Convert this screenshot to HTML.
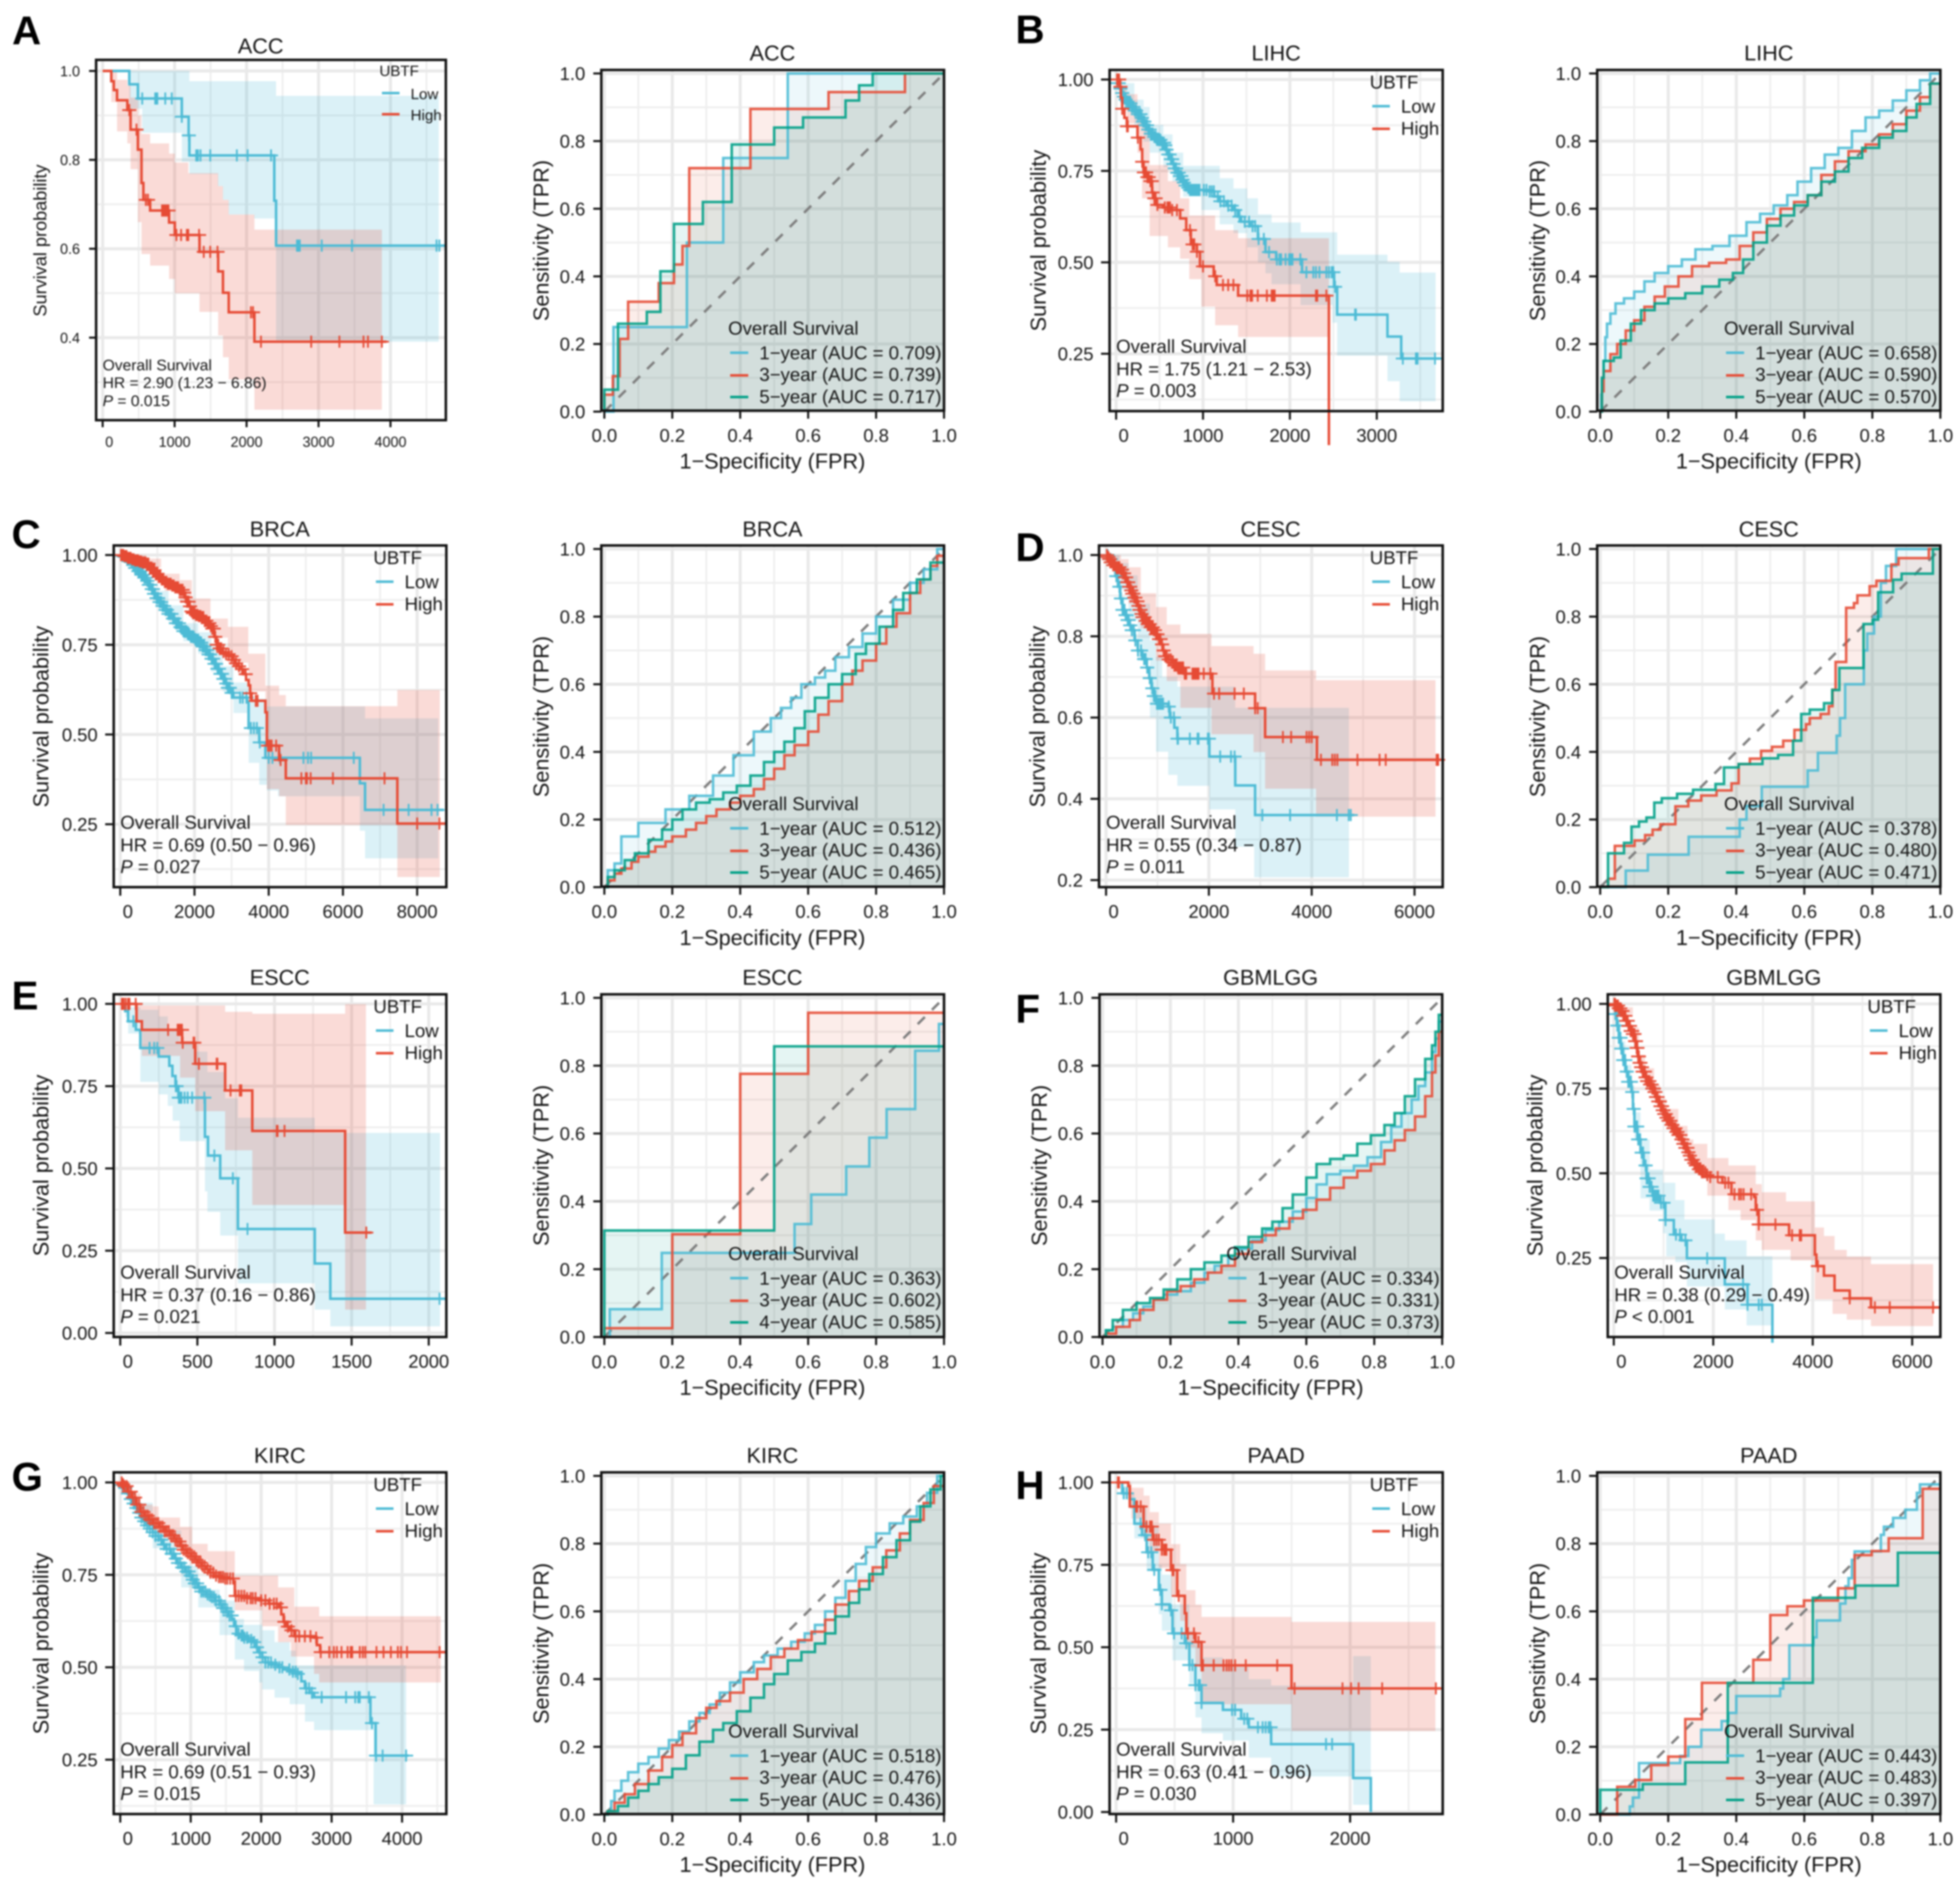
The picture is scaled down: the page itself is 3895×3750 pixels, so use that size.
<!DOCTYPE html>
<html lang="en">
<head>
<meta charset="utf-8">
<title>UBTF survival and ROC panels</title>
<style>
html,body{margin:0;padding:0;background:#fff;width:3895px;height:3750px;overflow:hidden}
svg{display:block;filter:blur(1.6px);font-family:"Liberation Sans",sans-serif;fill:#141414}
.t{font-size:43px;text-anchor:middle}
.yt{font-size:43px;text-anchor:middle}
.l{font-size:37px}
.pl{font-size:80px;font-weight:bold;fill:#000}
.k{stroke-width:5;fill:none}
.lo{stroke:#4DBBD5}.hi{stroke:#E64B35}.te{stroke:#00A087}
.s{font-size:30px}
</style>
</head>
<body>
<svg id="figure" xmlns="http://www.w3.org/2000/svg" width="3895" height="3750" viewBox="0 0 3895 3750">
<rect x="0" y="0" width="3895" height="3750" fill="#fff"/>
<g id="marks"></g>

<g>
<text class="pl" x="24" y="88">A</text>
<text class="pl" x="2018" y="86">B</text>
<text class="pl" x="23" y="1089">C</text>
<text class="pl" x="2018" y="1115">D</text>
<text class="pl" x="23" y="2006">E</text>
<text class="pl" x="2018" y="2032">F</text>
<text class="pl" x="23" y="2962">G</text>
<text class="pl" x="2018" y="2979">H</text>
</g>

<!-- ACC KM -->
<g>
<text class="t" x="518" y="106">ACC</text>
<text class="yt" style="font-size:36px" transform="translate(92,478) rotate(-90)">Survival probability</text>
<text class="s" x="754" y="151">UBTF</text>
<line class="k lo" x1="759" x2="794" y1="185" y2="185"/>
<text class="s" x="816" y="197">Low</text>
<line class="k hi" x1="759" x2="794" y1="227" y2="227"/>
<text class="s" x="816" y="239">High</text>
<text class="s" style="font-size:31px" x="204" y="736">Overall Survival</text>
<text class="s" style="font-size:31px" x="204" y="771">HR = 2.90 (1.23 − 6.86)</text>
<text class="s" style="font-size:31px" x="204" y="807"><tspan font-style="italic">P</tspan> = 0.015</text>
</g>

<!-- LIHC KM -->
<g>
<text class="t" x="2536" y="120">LIHC</text>
<text class="yt" transform="translate(2078,478) rotate(-90)">Survival probability</text>
<text class="l" x="2722" y="176">UBTF</text>
<line class="k lo" x1="2727" x2="2762" y1="211" y2="211"/>
<text class="l" x="2784" y="224">Low</text>
<line class="k hi" x1="2727" x2="2762" y1="256" y2="256"/>
<text class="l" x="2784" y="268">High</text>
<text class="l" x="2218" y="701">Overall Survival</text>
<text class="l" x="2218" y="746">HR = 1.75 (1.21 − 2.53)</text>
<text class="l" x="2218" y="789"><tspan font-style="italic">P</tspan> = 0.003</text>
</g>

<!-- BRCA KM -->
<g>
<text class="t" x="556" y="1066">BRCA</text>
<text class="yt" transform="translate(96,1424) rotate(-90)">Survival probability</text>
<text class="l" x="742" y="1121">UBTF</text>
<line class="k lo" x1="747" x2="782" y1="1156" y2="1156"/>
<text class="l" x="804" y="1169">Low</text>
<line class="k hi" x1="747" x2="782" y1="1201" y2="1201"/>
<text class="l" x="804" y="1213">High</text>
<text class="l" x="239" y="1647">Overall Survival</text>
<text class="l" x="239" y="1692">HR = 0.69 (0.50 − 0.96)</text>
<text class="l" x="239" y="1735"><tspan font-style="italic">P</tspan> = 0.027</text>
</g>

<!-- CESC KM -->
<g>
<text class="t" x="2525" y="1066">CESC</text>
<text class="yt" transform="translate(2076,1424) rotate(-90)">Survival probability</text>
<text class="l" x="2722" y="1121">UBTF</text>
<line class="k lo" x1="2727" x2="2762" y1="1156" y2="1156"/>
<text class="l" x="2784" y="1169">Low</text>
<line class="k hi" x1="2727" x2="2762" y1="1201" y2="1201"/>
<text class="l" x="2784" y="1213">High</text>
<text class="l" x="2198" y="1647">Overall Survival</text>
<text class="l" x="2198" y="1692">HR = 0.55 (0.34 − 0.87)</text>
<text class="l" x="2198" y="1735"><tspan font-style="italic">P</tspan> = 0.011</text>
</g>

<!-- ESCC KM -->
<g>
<text class="t" x="556" y="1957">ESCC</text>
<text class="yt" transform="translate(96,2316) rotate(-90)">Survival probability</text>
<text class="l" x="742" y="2013">UBTF</text>
<line class="k lo" x1="747" x2="782" y1="2048" y2="2048"/>
<text class="l" x="804" y="2061">Low</text>
<line class="k hi" x1="747" x2="782" y1="2093" y2="2093"/>
<text class="l" x="804" y="2105">High</text>
<text class="l" x="239" y="2541">Overall Survival</text>
<text class="l" x="239" y="2586">HR = 0.37 (0.16 − 0.86)</text>
<text class="l" x="239" y="2629"><tspan font-style="italic">P</tspan> = 0.021</text>
</g>

<!-- GBMLGG KM -->
<g>
<text class="t" x="3525" y="1957">GBMLGG</text>
<text class="yt" transform="translate(3065,2316) rotate(-90)">Survival probability</text>
<text class="l" x="3711" y="2013">UBTF</text>
<line class="k lo" x1="3716" x2="3751" y1="2048" y2="2048"/>
<text class="l" x="3773" y="2061">Low</text>
<line class="k hi" x1="3716" x2="3751" y1="2093" y2="2093"/>
<text class="l" x="3773" y="2105">High</text>
<text class="l" x="3208" y="2541">Overall Survival</text>
<text class="l" x="3208" y="2586">HR = 0.38 (0.29 − 0.49)</text>
<text class="l" x="3208" y="2629"><tspan font-style="italic">P</tspan> &lt; 0.001</text>
</g>

<!-- KIRC KM -->
<g>
<text class="t" x="556" y="2907">KIRC</text>
<text class="yt" transform="translate(96,3266) rotate(-90)">Survival probability</text>
<text class="l" x="742" y="2963">UBTF</text>
<line class="k lo" x1="747" x2="782" y1="2998" y2="2998"/>
<text class="l" x="804" y="3011">Low</text>
<line class="k hi" x1="747" x2="782" y1="3043" y2="3043"/>
<text class="l" x="804" y="3055">High</text>
<text class="l" x="239" y="3489">Overall Survival</text>
<text class="l" x="239" y="3534">HR = 0.69 (0.51 − 0.93)</text>
<text class="l" x="239" y="3577"><tspan font-style="italic">P</tspan> = 0.015</text>
</g>

<!-- PAAD KM -->
<g>
<text class="t" x="2536" y="2907">PAAD</text>
<text class="yt" transform="translate(2078,3266) rotate(-90)">Survival probability</text>
<text class="l" x="2722" y="2963">UBTF</text>
<line class="k lo" x1="2727" x2="2762" y1="2998" y2="2998"/>
<text class="l" x="2784" y="3011">Low</text>
<line class="k hi" x1="2727" x2="2762" y1="3043" y2="3043"/>
<text class="l" x="2784" y="3055">High</text>
<text class="l" x="2218" y="3489">Overall Survival</text>
<text class="l" x="2218" y="3534">HR = 0.63 (0.41 − 0.96)</text>
<text class="l" x="2218" y="3577"><tspan font-style="italic">P</tspan> = 0.030</text>
</g>

<!-- ROC ACC -->
<g>
<text class="t" x="1535" y="120">ACC</text>
<text class="yt" transform="translate(1090,478) rotate(-90)">Sensitivity (TPR)</text>
<text class="t" x="1535" y="931">1−Specificity (FPR)</text>
<text class="l" x="1447" y="665">Overall Survival</text>
<line class="k lo" x1="1451" x2="1487" y1="701" y2="701"/>
<text class="l" x="1509" y="714">1−year (AUC = 0.709)</text>
<line class="k hi" x1="1451" x2="1487" y1="746" y2="746"/>
<text class="l" x="1509" y="757">3−year (AUC = 0.739)</text>
<line class="k te" x1="1451" x2="1487" y1="789" y2="789"/>
<text class="l" x="1509" y="801">5−year (AUC = 0.717)</text>
</g>

<!-- ROC LIHC -->
<g>
<text class="t" x="3515" y="120">LIHC</text>
<text class="yt" transform="translate(3070,478) rotate(-90)">Sensitivity (TPR)</text>
<text class="t" x="3515" y="931">1−Specificity (FPR)</text>
<text class="l" x="3426" y="665">Overall Survival</text>
<line class="k lo" x1="3430" x2="3466" y1="701" y2="701"/>
<text class="l" x="3488" y="714">1−year (AUC = 0.658)</text>
<line class="k hi" x1="3430" x2="3466" y1="746" y2="746"/>
<text class="l" x="3488" y="757">3−year (AUC = 0.590)</text>
<line class="k te" x1="3430" x2="3466" y1="789" y2="789"/>
<text class="l" x="3488" y="801">5−year (AUC = 0.570)</text>
</g>

<!-- ROC BRCA -->
<g>
<text class="t" x="1535" y="1066">BRCA</text>
<text class="yt" transform="translate(1090,1424) rotate(-90)">Sensitivity (TPR)</text>
<text class="t" x="1535" y="1878">1−Specificity (FPR)</text>
<text class="l" x="1447" y="1610">Overall Survival</text>
<line class="k lo" x1="1451" x2="1487" y1="1646" y2="1646"/>
<text class="l" x="1509" y="1659">1−year (AUC = 0.512)</text>
<line class="k hi" x1="1451" x2="1487" y1="1691" y2="1691"/>
<text class="l" x="1509" y="1702">3−year (AUC = 0.436)</text>
<line class="k te" x1="1451" x2="1487" y1="1734" y2="1734"/>
<text class="l" x="1509" y="1746">5−year (AUC = 0.465)</text>
</g>

<!-- ROC CESC -->
<g>
<text class="t" x="3515" y="1066">CESC</text>
<text class="yt" transform="translate(3070,1424) rotate(-90)">Sensitivity (TPR)</text>
<text class="t" x="3515" y="1878">1−Specificity (FPR)</text>
<text class="l" x="3426" y="1610">Overall Survival</text>
<line class="k lo" x1="3430" x2="3466" y1="1646" y2="1646"/>
<text class="l" x="3488" y="1659">1−year (AUC = 0.378)</text>
<line class="k hi" x1="3430" x2="3466" y1="1691" y2="1691"/>
<text class="l" x="3488" y="1702">3−year (AUC = 0.480)</text>
<line class="k te" x1="3430" x2="3466" y1="1734" y2="1734"/>
<text class="l" x="3488" y="1746">5−year (AUC = 0.471)</text>
</g>

<!-- ROC ESCC -->
<g>
<text class="t" x="1535" y="1957">ESCC</text>
<text class="yt" transform="translate(1090,2316) rotate(-90)">Sensitivity (TPR)</text>
<text class="t" x="1535" y="2772">1−Specificity (FPR)</text>
<text class="l" x="1447" y="2504">Overall Survival</text>
<line class="k lo" x1="1451" x2="1487" y1="2540" y2="2540"/>
<text class="l" x="1509" y="2553">1−year (AUC = 0.363)</text>
<line class="k hi" x1="1451" x2="1487" y1="2585" y2="2585"/>
<text class="l" x="1509" y="2596">3−year (AUC = 0.602)</text>
<line class="k te" x1="1451" x2="1487" y1="2628" y2="2628"/>
<text class="l" x="1509" y="2640">4−year (AUC = 0.585)</text>
</g>

<!-- ROC GBMLGG -->
<g>
<text class="t" x="2525" y="1957">GBMLGG</text>
<text class="yt" transform="translate(2080,2316) rotate(-90)">Sensitivity (TPR)</text>
<text class="t" x="2525" y="2772">1−Specificity (FPR)</text>
<text class="l" x="2437" y="2504">Overall Survival</text>
<line class="k lo" x1="2441" x2="2477" y1="2540" y2="2540"/>
<text class="l" x="2499" y="2553">1−year (AUC = 0.334)</text>
<line class="k hi" x1="2441" x2="2477" y1="2585" y2="2585"/>
<text class="l" x="2499" y="2596">3−year (AUC = 0.331)</text>
<line class="k te" x1="2441" x2="2477" y1="2628" y2="2628"/>
<text class="l" x="2499" y="2640">5−year (AUC = 0.373)</text>
</g>

<!-- ROC KIRC -->
<g>
<text class="t" x="1535" y="2907">KIRC</text>
<text class="yt" transform="translate(1090,3266) rotate(-90)">Sensitivity (TPR)</text>
<text class="t" x="1535" y="3720">1−Specificity (FPR)</text>
<text class="l" x="1447" y="3453">Overall Survival</text>
<line class="k lo" x1="1451" x2="1487" y1="3489" y2="3489"/>
<text class="l" x="1509" y="3502">1−year (AUC = 0.518)</text>
<line class="k hi" x1="1451" x2="1487" y1="3534" y2="3534"/>
<text class="l" x="1509" y="3545">3−year (AUC = 0.476)</text>
<line class="k te" x1="1451" x2="1487" y1="3577" y2="3577"/>
<text class="l" x="1509" y="3589">5−year (AUC = 0.436)</text>
</g>

<!-- ROC PAAD -->
<g>
<text class="t" x="3515" y="2907">PAAD</text>
<text class="yt" transform="translate(3070,3266) rotate(-90)">Sensitivity (TPR)</text>
<text class="t" x="3515" y="3720">1−Specificity (FPR)</text>
<text class="l" x="3426" y="3453">Overall Survival</text>
<line class="k lo" x1="3430" x2="3466" y1="3489" y2="3489"/>
<text class="l" x="3488" y="3502">1−year (AUC = 0.443)</text>
<line class="k hi" x1="3430" x2="3466" y1="3534" y2="3534"/>
<text class="l" x="3488" y="3545">3−year (AUC = 0.483)</text>
<line class="k te" x1="3430" x2="3466" y1="3577" y2="3577"/>
<text class="l" x="3488" y="3589">5−year (AUC = 0.397)</text>
</g>
</svg>

<script>
/* ---------- Kaplan-Meier data: curve knots are [time, survival], bands are [time, lower, upper] ---------- */
const accLow=[[370,.97],[490,.938],[1100,.897],[1195,.855],[1205,.81],[2385,.708],[2410,.607],[4780,.607]];
const accHigh=[[120,.977],[155,.957],[200,.934],[343,.912],[388,.868],[490,.823],[540,.748],[566,.71],[660,.686],[923,.659],[1003,.631],[1346,.593],[1605,.549],[1672,.501],[1752,.457],[2109,.391],[3945,.391]];
const accLowBand=[[0,1,1],[370,.915,1],[550,.861,1],[1100,.796,1],[1205,.768,.977],[1600,.741,.977],[1670,.71,.977],[1750,.677,.977],[2105,.668,.977],[2410,.391,.944],[4670,.391,.944]];
const accHighBand=[[0,1,1],[120,.93,1],[200,.864,.98],[343,.837,.967],[388,.779,.94],[490,.66,.9],[540,.588,.858],[660,.562,.837],[923,.532,.814],[1003,.5,.794],[1190,.5,.77],[1346,.458,.77],[1605,.405,.741],[1672,.356,.71],[1752,.306,.677],[2109,.238,.643],[3880,.238,.643]];
const accLowCensor=[550,730,745,760,870,960,1100,1198,1300,1325,1360,1495,1865,2015,2340,2700,2720,2740,3045,3465,4640,4680];
const accHighCensor=[370,470,600,630,825,840,855,870,885,900,915,1025,1090,1170,1190,1340,1405,1495,1596,2060,2090,2200,2898,3290,3625,3687,3880];

const lihcLow=[[15,.99],[35,.975],[53,.963],[75,.953],[100,.945],[120,.94],[140,.935],[175,.925],[210,.915],[245,.905],[281,.895],[305,.885],[330,.875],[360,.863],[386,.852],[425,.843],[470,.835],[515,.827],[561,.82],[580,.808],[600,.795],[625,.782],[649,.769],[675,.757],[700,.745],[725,.736],[754,.726],[775,.718],[800,.71],[820,.704],[842,.698],[1070,.694],[1130,.68],[1193,.667],[1270,.655],[1351,.643],[1400,.625],[1439,.611],[1544,.599],[1632,.564],[1719,.528],[1842,.508],[2140,.473],[2509,.433],[2544,.357],[3123,.297],[3281,.237],[3737,.237]];
const lihcHigh=[[42,.98],[55,.95],[70,.92],[95,.895],[123,.872],[246,.841],[281,.809],[300,.775],[316,.746],[350,.733],[386,.722],[414,.691],[435,.675],[456,.657],[540,.65],[632,.643],[737,.62],[807,.588],[860,.549],[930,.529],[965,.489],[1123,.462],[1158,.438],[1404,.409],[2449,0]];
const lihcLowBand=[[0,1,1],[70,.945,.99],[210,.87,.945],[316,.83,.925],[386,.8,.876],[544,.76,.85],[649,.72,.8],[772,.68,.764],[982,.643,.764],[1193,.604,.73],[1351,.58,.702],[1509,.541,.675],[1632,.5,.631],[1719,.47,.631],[1789,.44,.609],[2123,.383,.582],[2491,.335,.582],[2544,.245,.521],[3123,.175,.501],[3263,.12,.472],[3677,.12,.472]];
const lihcHighBand=[[0,1,1],[42,.97,1],[70,.93,.98],[123,.88,.96],[246,.8,.92],[298,.675,.87],[386,.572,.766],[596,.541,.722],[737,.51,.675],[842,.454,.628],[982,.379,.628],[1140,.328,.588],[1404,.296,.566],[2449,.296,.566]];
const lihcLowCensor=[15,30,50,70,90,110,130,150,165,180,200,215,230,250,265,280,295,310,325,340,355,370,385,400,420,440,455,470,490,510,530,550,565,580,600,615,630,645,660,675,690,705,720,735,750,765,780,800,815,830,850,870,890,905,920,935,950,960,1010,1040,1075,1100,1125,1170,1200,1240,1290,1330,1370,1420,1480,1530,1570,1600,1640,1700,1760,1850,1880,1900,1950,1990,2010,2030,2120,2190,2270,2300,2340,2420,2450,2480,2500,2520,2750,2760,3300,3450,3470,3670];
const lihcHighCensor=[10,20,35,50,70,125,135,250,300,320,330,345,360,375,395,410,420,440,455,475,560,590,600,620,645,700,850,880,900,930,1000,1140,1230,1290,1350,1510,1545,1565,1630,1735,1790,1810,1825,2300,2315,2420];

const brcaLow=[[50,.997],[100,.995],[180,.987],[250,.98],[320,.972],[378,.964],[460,.955],[540,.945],[620,.937],[706,.928],[770,.917],[830,.905],[890,.892],[953,.88],[1030,.869],[1110,.858],[1200,.847],[1281,.836],[1385,.823],[1490,.81],[1590,.799],[1692,.788],[1800,.78],[1900,.772],[2000,.764],[2103,.756],[2190,.745],[2270,.735],[2350,.723],[2431,.711],[2520,.697],[2600,.683],[2680,.669],[2760,.655],[2830,.642],[2900,.63],[2970,.616],[3047,.603],[3417,.59],[3458,.518],[3745,.478],[3910,.435],[6456,.364],[6596,.29],[8715,.29]];
const brcaHigh=[[100,.997],[200,.992],[296,.988],[400,.985],[500,.982],[600,.979],[706,.976],[800,.965],[870,.958],[950,.948],[1035,.939],[1120,.932],[1200,.925],[1280,.92],[1363,.915],[1450,.91],[1570,.903],[1692,.895],[1750,.882],[1800,.87],[1850,.857],[1897,.843],[1960,.838],[2040,.833],[2120,.83],[2185,.827],[2270,.817],[2350,.81],[2420,.802],[2472,.795],[2530,.772],[2595,.75],[2680,.74],[2760,.73],[2840,.724],[2924,.718],[3010,.708],[3090,.698],[3170,.69],[3253,.682],[3320,.668],[3390,.652],[3458,.637],[3500,.615],[3540,.594],[3910,.562],[3951,.469],[4279,.429],[4460,.378],[7466,.252],[8755,.252]];
const brcaLowBand=[[0,1,1],[400,.955,.98],[950,.86,.9],[1300,.815,.86],[1700,.76,.81],[2100,.725,.785],[2450,.675,.745],[2760,.62,.69],[3050,.56,.645],[3420,.525,.638],[3460,.421,.6],[3745,.36,.6],[3950,.344,.578],[4250,.328,.578],[6456,.232,.578],[6596,.155,.545],[8567,.155,.545]];
const brcaHighBand=[[0,1,1],[300,.98,1],[700,.965,.99],[1100,.925,.95],[1199,.9,.948],[1600,.87,.93],[1930,.82,.879],[2430,.77,.823],[2900,.7,.8],[3450,.62,.725],[3910,.451,.636],[3950,.348,.636],[4279,.328,.61],[4460,.248,.579],[7466,.103,.624],[8610,.103,.624]];
const brcaLowCensor=[60,120,190,240,300,350,400,450,490,530,570,610,650,690,730,770,810,850,880,910,940,980,1020,1060,1100,1140,1180,1220,1260,1300,1340,1380,1420,1460,1500,1540,1580,1620,1660,1700,1740,1780,1820,1860,1900,1940,1980,2020,2060,2100,2140,2180,2220,2260,2300,2340,2380,2420,2460,2500,2540,2580,2620,2660,2700,2740,2780,2820,2860,2900,2950,3000,3040,3230,3300,3400,3520,3600,3680,3760,4000,4100,4300,4936,5060,5142,6292,7096,7770,8386,8550];
const brcaHighCensor=[20,50,80,110,140,170,200,240,280,320,360,400,440,480,520,560,600,640,680,720,760,800,840,880,920,960,1000,1040,1080,1120,1160,1200,1240,1280,1320,1360,1400,1440,1480,1520,1560,1600,1640,1680,1720,1760,1800,1840,1880,1920,1960,2000,2040,2080,2120,2160,2200,2240,2280,2320,2360,2400,2440,2480,2520,2560,2600,2640,2680,2720,2780,2850,2920,3000,3060,3120,3200,3280,3380,3500,3650,3700,3980,4030,4080,4200,4320,4880,5000,5030,5130,5730,7120,8000,8600];

const cescLow=[[60,.99],[100,.982],[142,.975],[185,.948],[231,.922],[275,.893],[320,.865],[365,.852],[410,.84],[455,.827],[498,.815],[555,.79],[616,.765],[705,.744],[794,.723],[840,.697],[883,.672],[930,.653],[972,.634],[1209,.627],[1239,.6],[1328,.575],[1387,.548],[2009,.504],[2513,.433],[2899,.36],[4825,.36]];
const cescHigh=[[25,.995],[50,.99],[80,.982],[113,.975],[200,.97],[290,.964],[325,.955],[360,.945],[400,.933],[439,.922],[475,.913],[510,.905],[550,.895],[587,.886],[620,.875],[650,.865],[680,.855],[705,.847],[760,.838],[810,.83],[860,.822],[913,.815],[960,.805],[1010,.793],[1061,.78],[1105,.765],[1150,.751],[1210,.743],[1270,.735],[1330,.728],[1387,.723],[1506,.708],[2069,.659],[2899,.623],[3047,.623],[3094,.552],[4102,.496],[6514,.496]];
const cescLowBand=[[0,1,1],[142,.95,1],[261,.915,.98],[439,.84,.95],[616,.74,.88],[854,.6,.79],[972,.516,.75],[1091,.516,.7],[1209,.459,.7],[1387,.432,.676],[2009,.374,.676],[2513,.282,.624],[2881,.207,.624],[4724,.207,.624]];
const cescHighBand=[[0,1,1],[113,.96,1],[290,.93,.99],[439,.88,.97],[676,.82,.906],[972,.74,.872],[1180,.69,.829],[1446,.624,.806],[2051,.559,.776],[2869,.515,.757],[3094,.425,.716],[4084,.356,.692],[6408,.356,.692]];
const cescLowCensor=[30,60,90,130,170,200,230,260,290,320,340,360,380,400,420,440,470,500,540,570,620,680,740,770,800,850,900,930,960,990,1020,1050,1070,1090,1110,1220,1260,1320,1390,1400,1630,1780,1800,1980,2000,2220,2430,2500,3040,3580,4490,4720,4760];
const cescHighCensor=[15,30,45,60,75,90,110,140,170,200,230,260,290,310,330,350,370,390,410,430,450,470,490,510,530,550,570,590,610,630,650,670,690,710,730,750,770,790,810,830,850,870,890,910,930,950,970,1000,1030,1060,1090,1120,1150,1180,1220,1260,1300,1330,1350,1370,1400,1430,1450,1480,1500,1530,1560,1680,1710,1740,1770,1800,1900,2030,2100,2200,2500,2680,2900,2950,3440,3600,3900,3950,4000,4180,4400,4450,4500,4890,5320,5440,6430,6460];

const esccLow=[[32,.978],[51,.947],[101,.921],[130,.866],[249,.84],[318,.812],[338,.781],[358,.75],[377,.715],[549,.596],[569,.539],[648,.47],[763,.316],[1261,.211],[1362,.104],[2107,.104]];
const esccHigh=[[105,.947],[140,.921],[401,.882],[486,.818],[680,.737],[856,.614],[1458,.305],[1628,.305]];
const esccLowBand=[[0,1,1],[32,.96,1],[51,.91,.99],[130,.763,.982],[249,.725,.962],[308,.69,.92],[340,.645,.92],[385,.583,.882],[486,.583,.855],[549,.43,.855],[565,.368,.793],[648,.296,.793],[680,.296,.713],[763,.151,.654],[1261,.071,.608],[1362,.02,.608],[2073,.02,.608]];
const esccHighBand=[[0,1,1],[105,.95,1],[140,.842,.995],[388,.776,.995],[486,.674,.995],[680,.555,.976],[856,.389,.97],[1458,.071,.999],[1593,.071,.999]];
const esccLowCensor=[85,190,220,240,360,365,380,385,392,397,417,437,466,545,610,730,825,2070];
const esccHighCensor=[10,15,22,35,50,60,100,310,372,378,385,395,400,405,475,480,510,625,630,715,775,780,785,1015,1020,1065,1595];

const gbmLow=[[30,.97],[61,.936],[100,.9],[140,.868],[185,.834],[232,.8],[290,.77],[354,.74],[385,.69],[415,.638],[475,.6],[537,.561],[600,.523],[659,.485],[720,.46],[780,.434],[933,.413],[1037,.362],[1207,.319],[1360,.302],[1470,.249],[2232,.172],[2689,.112],[3189,0]];
const gbmHigh=[[40,.995],[90,.987],[140,.979],[190,.965],[240,.95],[290,.935],[340,.92],[384,.911],[420,.89],[450,.87],[480,.845],[506,.826],[540,.813],[580,.8],[628,.783],[670,.772],[720,.762],[770,.75],[811,.74],[850,.725],[890,.712],[933,.698],[975,.686],[1015,.675],[1055,.664],[1100,.655],[1150,.643],[1200,.633],[1250,.622],[1299,.613],[1345,.6],[1390,.587],[1435,.575],[1482,.562],[1520,.552],[1560,.54],[1600,.53],[1634,.523],[1700,.512],[1770,.503],[1850,.495],[1939,.489],[2183,.472],[2366,.438],[2823,.43],[2854,.392],[2915,.349],[3524,.317],[3982,.317],[4043,.26],[4073,.226],[4226,.198],[4439,.154],[4744,.131],[5171,.104],[6543,.104]];
const gbmLowBand=[[0,1,1],[61,.92,.95],[140,.85,.89],[232,.78,.82],[354,.72,.76],[415,.6,.68],[537,.426,.6],[720,.39,.511],[990,.323,.472],[1055,.255,.472],[1237,.238,.421],[1420,.238,.364],[1470,.166,.364],[2030,.166,.322],[2232,.098,.302],[2670,.051,.255],[3189,.051,.255]];
const gbmHighBand=[[0,1,1],[140,.97,.99],[384,.89,.93],[506,.8,.85],[628,.76,.81],[811,.72,.76],[933,.675,.72],[1055,.64,.69],[1299,.59,.64],[1482,.53,.6],[1600,.502,.587],[1880,.434,.545],[2305,.391,.523],[2550,.362,.523],[2854,.302,.468],[2975,.274,.444],[3463,.274,.417],[3555,.243,.417],[4043,.128,.34],[4226,.128,.315],[4400,.085,.315],[4439,.085,.274],[4684,.068,.254],[5171,.049,.232],[6420,.049,.232]];
const gbmLowCensor=[30,50,60,70,85,100,115,125,135,150,170,190,210,230,260,290,320,345,370,400,415,430,450,470,490,510,530,560,590,640,660,680,700,720,760,790,810,840,860,880,900,950,1000,1040,1250,1330,1440,1878,2600,2689,2915,2976];
const gbmHighCensor=[10,25,40,55,70,85,100,115,130,145,160,175,190,205,220,235,250,265,280,295,310,325,340,355,370,385,400,415,430,445,460,475,490,505,520,535,550,565,580,595,610,625,640,655,670,685,700,715,730,745,760,775,790,805,820,835,850,865,880,895,910,925,940,955,970,985,1000,1015,1030,1045,1060,1080,1100,1120,1140,1160,1180,1200,1220,1240,1260,1280,1300,1320,1340,1360,1380,1400,1420,1440,1460,1480,1500,1530,1560,1590,1620,1650,1680,1710,1740,1770,1800,1840,1880,1939,2090,2240,2305,2427,2518,2560,2610,2762,2880,2915,3250,3585,3738,3768,4104,4744,5250,5549,6420];

const kircLow=[[30,.993],[60,.985],[95,.97],[130,.955],[165,.943],[199,.931],[245,.918],[290,.905],[330,.895],[372,.884],[415,.875],[460,.865],[500,.855],[545,.845],[600,.832],[650,.82],[705,.807],[761,.794],[815,.782],[870,.77],[925,.759],[978,.748],[1020,.737],[1060,.727],[1105,.716],[1150,.705],[1215,.697],[1280,.69],[1345,.68],[1410,.67],[1455,.66],[1500,.65],[1540,.64],[1583,.631],[1615,.611],[1648,.591],[1700,.586],[1760,.58],[1820,.574],[1886,.568],[1930,.554],[1970,.54],[2015,.527],[2059,.513],[2150,.507],[2240,.5],[2318,.494],[2410,.488],[2513,.482],[2570,.462],[2621,.443],[2685,.431],[2751,.419],[3551,.349],[3625,.261],[4092,.261]];
const kircHigh=[[25,.995],[50,.99],[100,.975],[156,.959],[220,.94],[285,.92],[340,.91],[400,.9],[470,.89],[545,.88],[630,.868],[718,.857],[760,.848],[800,.84],[845,.829],[891,.818],[945,.809],[1000,.8],[1055,.791],[1107,.783],[1160,.774],[1210,.765],[1265,.756],[1324,.748],[1400,.744],[1480,.74],[1605,.732],[1626,.693],[1800,.687],[1972,.681],[2110,.672],[2253,.662],[2285,.643],[2318,.623],[2360,.61],[2400,.6],[2470,.584],[2751,.58],[2790,.56],[2837,.541],[4611,.541]];
const kircLowBand=[[0,1,1],[199,.92,.945],[460,.822,.87],[865,.716,.775],[1107,.662,.71],[1410,.587,.68],[1626,.521,.631],[1756,.49,.615],[1972,.459,.615],[2015,.44,.6],[2190,.418,.568],[2405,.4,.545],[2490,.4,.505],[2621,.353,.505],[2751,.33,.505],[3596,.129,.505],[4057,.129,.505]];
const kircHighBand=[[0,1,1],[156,.95,.97],[285,.9,.94],[460,.87,.935],[545,.855,.905],[848,.82,.88],[1020,.79,.834],[1240,.76,.814],[1326,.74,.814],[1626,.654,.748],[2015,.611,.748],[2240,.568,.716],[2425,.529,.716],[2470,.529,.664],[2751,.482,.664],[2824,.459,.638],[4550,.459,.638]];
const kircLowCensor=[30,70,110,150,190,230,270,300,340,380,420,460,500,540,580,620,660,700,730,760,790,820,850,880,910,940,970,1000,1030,1060,1090,1120,1150,1180,1210,1240,1270,1300,1330,1360,1400,1430,1460,1490,1520,1550,1580,1640,1680,1720,1740,1760,1800,1860,1900,1940,1980,2020,2060,2100,2140,2200,2260,2300,2400,2450,2490,2520,2640,2680,2720,2859,3205,3335,3378,3400,3529,3573,3630,3724,4057];
const kircHighCensor=[20,40,60,90,120,150,180,210,240,270,300,330,360,390,420,450,480,510,540,570,600,630,660,690,720,750,780,810,840,870,900,930,960,990,1020,1050,1080,1110,1140,1170,1200,1240,1280,1320,1360,1400,1430,1460,1490,1520,1560,1600,1640,1680,1720,1760,1800,1850,1880,1920,2000,2060,2120,2180,2220,2280,2330,2380,2430,2490,2540,2620,2700,2780,2846,2967,3032,3075,3140,3227,3270,3292,3400,3443,3478,3637,3737,3841,3940,3984,4070,4533];

const paadLow=[[52,.967],[117,.949],[156,.875],[222,.84],[261,.788],[313,.735],[365,.674],[391,.63],[456,.612],[482,.542],[587,.512],[626,.446],[678,.385],[730,.331],[913,.31],[1069,.283],[1134,.257],[1325,.206],[2026,.103],[2177,0]];
const paadHigh=[[104,.989],[117,.927],[235,.866],[313,.826],[391,.796],[469,.734],[522,.656],[587,.603],[600,.542],[678,.516],[730,.445],[1499,.375],[2777,.375]];
const paadLowBand=[[0,1,1],[52,.95,.99],[117,.92,.97],[156,.83,.93],[261,.73,.87],[365,.6,.75],[391,.55,.72],[482,.46,.63],[626,.39,.55],[678,.287,.52],[730,.239,.469],[913,.217,.44],[1134,.165,.403],[1325,.108,.384],[2026,.022,.473],[2177,.022,.473]];
const paadHighBand=[[0,1,1],[104,.96,1],[130,.89,.984],[235,.83,.96],[287,.79,.91],[365,.74,.875],[469,.66,.813],[548,.58,.752],[600,.5,.673],[678,.44,.629],[730,.327,.592],[1499,.246,.577],[2729,.246,.577]];
const paadLowCensor=[65,91,209,248,274,300,326,378,391,469,495,560,600,626,652,678,704,717,730,991,1017,1095,1121,1212,1252,1278,1304,1320,1794,1846];
const paadHighCensor=[15,25,170,180,210,260,290,305,325,345,365,391,410,425,430,482,490,535,613,665,704,730,743,834,918,944,965,986,1017,1108,1377,1525,1935,2008,2073,2274,2733];

/* ---------- Kaplan-Meier axis ticks ---------- */
const accXTicks=[0,1000,2000,3000,4000];
const accYTicks=[1,.8,.6,.4];
const accYLabels=['1.0','0.8','0.6','0.4'];
const lihcXTicks=[0,1000,2000,3000];
const lihcYTicks=[1,.75,.5,.25];
const lihcYLabels=['1.00','0.75','0.50','0.25'];
const brcaXTicks=[0,2000,4000,6000,8000];
const brcaYTicks=[1,.75,.5,.25];
const brcaYLabels=['1.00','0.75','0.50','0.25'];
const cescXTicks=[0,2000,4000,6000];
const cescYTicks=[1,.8,.6,.4,.2];
const cescYLabels=['1.0','0.8','0.6','0.4','0.2'];
const esccXTicks=[0,500,1000,1500,2000];
const esccYTicks=[1,.75,.5,.25,0];
const esccYLabels=['1.00','0.75','0.50','0.25','0.00'];
const gbmXTicks=[0,2000,4000,6000];
const gbmYTicks=[1,.75,.5,.25];
const gbmYLabels=['1.00','0.75','0.50','0.25'];
const kircXTicks=[0,1000,2000,3000,4000];
const kircYTicks=[1,.75,.5,.25];
const kircYLabels=['1.00','0.75','0.50','0.25'];
const paadXTicks=[0,1000,2000];
const paadYTicks=[1,.75,.5,.25,0];
const paadYLabels=['1.00','0.75','0.50','0.25','0.00'];

/* ---------- ROC data: knots are [FPR, TPR], stepped horizontally then vertically ---------- */
const rocTicks=[0,.2,.4,.6,.8,1];
const rocTickLabels=['0.0','0.2','0.4','0.6','0.8','1.0'];

const rocAcc1=[[.027,.25],[.243,.5],[.35,.75],[.54,1],[1,1]];
const rocAcc3=[[0,.05],[.025,.105],[.045,.215],[.07,.325],[.16,.38],[.205,.435],[.23,.49],[.25,.72],[.43,.895],[.66,.945],[.885,1],[1,1]];
const rocAcc5=[[0,.065],[.04,.26],[.125,.295],[.165,.415],[.205,.555],[.29,.62],[.375,.79],[.5,.84],[.585,.87],[.71,.92],[.75,.965],[.79,1],[1,1]];

const rocLihc1=[[.003,.05],[.005,.1],[.01,.15],[.015,.22],[.02,.26],[.03,.29],[.045,.32],[.07,.335],[.1,.355],[.13,.385],[.16,.41],[.2,.43],[.24,.45],[.28,.48],[.33,.49],[.38,.52],[.43,.56],[.47,.585],[.51,.61],[.55,.64],[.58,.68],[.62,.72],[.66,.76],[.7,.78],[.74,.83],[.78,.87],[.82,.89],[.86,.92],[.9,.95],[.94,.98],[.97,1],[1,1]];
const rocLihc3=[[.005,.06],[.01,.12],[.03,.17],[.05,.2],[.075,.24],[.1,.27],[.13,.31],[.16,.34],[.19,.37],[.23,.4],[.27,.43],[.32,.44],[.37,.45],[.41,.49],[.45,.53],[.49,.57],[.53,.6],[.57,.62],[.61,.64],[.65,.7],[.69,.74],[.73,.77],[.78,.79],[.82,.82],[.86,.85],[.9,.89],[.94,.93],[.97,.97],[1,1]];
const rocLihc5=[[.005,.1],[.01,.15],[.04,.16],[.06,.21],[.09,.26],[.12,.3],[.16,.32],[.2,.335],[.25,.35],[.3,.37],[.35,.39],[.39,.41],[.42,.45],[.45,.5],[.49,.55],[.53,.58],[.57,.61],[.61,.64],[.65,.68],[.69,.71],[.73,.75],[.77,.78],[.82,.81],[.86,.83],[.9,.87],[.93,.91],[.97,.97],[1,1]];

const rocBrca1=[[.01,.05],[.03,.07],[.05,.15],[.09,.15],[.1,.19],[.17,.19],[.18,.23],[.23,.23],[.25,.27],[.31,.27],[.32,.33],[.37,.33],[.38,.39],[.42,.39],[.44,.46],[.47,.46],[.49,.5],[.52,.53],[.55,.56],[.58,.6],[.62,.62],[.65,.64],[.68,.68],[.72,.71],[.76,.75],[.8,.8],[.85,.85],[.9,.9],[.94,.94],[.98,1],[1,1]];
const rocBrca3=[[.01,.02],[.03,.04],[.05,.055],[.08,.075],[.1,.09],[.13,.105],[.15,.12],[.18,.135],[.2,.15],[.24,.17],[.27,.19],[.3,.21],[.33,.23],[.37,.25],[.4,.27],[.44,.29],[.47,.32],[.5,.35],[.53,.39],[.56,.42],[.6,.46],[.63,.51],[.66,.55],[.7,.6],[.73,.64],[.76,.67],[.8,.72],[.83,.77],[.86,.81],[.9,.87],[.93,.91],[.96,.95],[.98,.98],[1,1]];
const rocBrca5=[[.01,.03],[.03,.05],[.06,.08],[.09,.1],[.13,.14],[.17,.17],[.2,.2],[.23,.23],[.27,.25],[.31,.26],[.35,.28],[.39,.3],[.43,.33],[.47,.37],[.5,.4],[.53,.43],[.56,.47],[.59,.52],[.62,.56],[.66,.6],[.7,.63],[.74,.69],[.77,.72],[.81,.77],[.85,.82],[.88,.87],[.92,.91],[.96,.96],[1,1]];

const rocCesc1=[[.075,.049],[.14,.096],[.26,.149],[.41,.2],[.43,.24],[.475,.297],[.61,.345],[.64,.397],[.695,.448],[.705,.5],[.72,.6],[.775,.7],[.785,.75],[.805,.8],[.825,.9],[.84,.95],[.87,1],[1,1]];
const rocCesc3=[[.023,.025],[.043,.122],[.101,.138],[.132,.154],[.154,.17],[.177,.186],[.221,.239],[.259,.256],[.297,.271],[.342,.286],[.386,.307],[.407,.364],[.44,.38],[.473,.403],[.505,.415],[.538,.433],[.571,.465],[.605,.482],[.616,.5],[.648,.512],[.672,.535],[.683,.584],[.692,.666],[.723,.826],[.746,.84],[.756,.863],[.792,.89],[.812,.906],[.856,.954],[.877,.973],[.966,1],[1,1]];
const rocCesc5=[[.023,.1],[.07,.131],[.092,.179],[.114,.194],[.136,.206],[.159,.25],[.181,.263],[.226,.276],[.273,.288],[.339,.305],[.364,.354],[.407,.364],[.477,.381],[.523,.391],[.567,.433],[.591,.512],[.616,.525],[.658,.544],[.682,.583],[.703,.648],[.774,.778],[.801,.791],[.817,.872],[.861,.909],[.886,.927],[.978,1],[1,1]];

const rocEscc1=[[.016,.082],[.169,.248],[.56,.333],[.609,.42],[.712,.503],[.78,.588],[.831,.672],[.915,.844],[.985,.923],[1,.923]];
const rocEscc3=[[0,.026],[.2,.303],[.4,.776],[.6,.956],[1,.956]];
const rocEscc4=[[0,.314],[.5,.857],[1,.857]];

const rocGbm1=[[.01,.02],[.03,.03],[.06,.05],[.09,.07],[.12,.09],[.15,.11],[.18,.125],[.22,.135],[.26,.16],[.3,.19],[.33,.21],[.37,.235],[.4,.26],[.44,.285],[.48,.315],[.52,.34],[.56,.37],[.6,.41],[.63,.45],[.66,.48],[.7,.49],[.74,.505],[.78,.53],[.82,.575],[.85,.62],[.88,.66],[.91,.7],[.93,.74],[.95,.78],[.97,.84],[.98,.88],[.99,.93],[1,.97]];
const rocGbm3=[[.01,.01],[.04,.03],[.08,.05],[.11,.08],[.15,.11],[.19,.135],[.23,.15],[.27,.17],[.31,.19],[.35,.21],[.39,.245],[.43,.28],[.47,.3],[.51,.32],[.55,.35],[.59,.375],[.63,.405],[.67,.44],[.71,.47],[.75,.49],[.79,.51],[.83,.55],[.86,.58],[.89,.61],[.92,.65],[.95,.71],[.97,.78],[.98,.83],[.99,.9],[1,.95]];
const rocGbm5=[[.01,.02],[.03,.05],[.06,.08],[.1,.1],[.14,.115],[.18,.14],[.22,.17],[.26,.2],[.3,.22],[.35,.24],[.39,.265],[.43,.295],[.47,.32],[.5,.34],[.53,.38],[.56,.42],[.6,.47],[.63,.51],[.67,.525],[.71,.535],[.75,.57],[.79,.595],[.83,.625],[.86,.66],[.89,.71],[.92,.76],[.95,.82],[.97,.86],[.98,.9],[.99,.95],[1,.98]];

const rocKirc1=[[.01,.01],[.02,.04],[.03,.07],[.05,.1],[.07,.125],[.1,.15],[.13,.17],[.16,.195],[.19,.22],[.22,.245],[.25,.275],[.28,.3],[.31,.325],[.34,.36],[.37,.39],[.4,.42],[.44,.45],[.47,.47],[.51,.49],[.55,.51],[.59,.535],[.62,.56],[.65,.6],[.68,.64],[.71,.69],[.74,.74],[.77,.79],[.8,.83],[.84,.86],[.88,.88],[.92,.91],[.95,.95],[.98,1],[1,1]];
const rocKirc3=[[.01,.01],[.03,.035],[.06,.06],[.09,.09],[.13,.13],[.17,.17],[.2,.205],[.23,.24],[.27,.285],[.3,.315],[.33,.335],[.37,.36],[.41,.4],[.45,.43],[.49,.465],[.53,.49],[.57,.515],[.61,.54],[.65,.575],[.68,.62],[.72,.66],[.75,.69],[.79,.73],[.83,.78],[.87,.83],[.9,.87],[.94,.92],[.97,.97],[1,1]];
const rocKirc5=[[.01,.01],[.04,.025],[.07,.05],[.1,.07],[.13,.09],[.16,.11],[.2,.135],[.24,.175],[.28,.215],[.32,.25],[.35,.27],[.39,.305],[.43,.345],[.47,.385],[.5,.415],[.54,.455],[.58,.48],[.62,.505],[.65,.535],[.68,.585],[.72,.625],[.75,.665],[.78,.71],[.82,.76],[.86,.81],[.9,.865],[.93,.91],[.96,.96],[.99,1],[1,1]];

const rocPaad1=[[.087,.024],[.096,.05],[.114,.152],[.235,.173],[.259,.2],[.297,.25],[.357,.276],[.377,.3],[.4,.35],[.529,.372],[.538,.4],[.556,.5],[.627,.523],[.636,.573],[.705,.623],[.721,.674],[.73,.698],[.74,.752],[.748,.777],[.825,.826],[.834,.85],[.861,.876],[.897,.9],[.931,.95],[.94,.975],[1,.975]];
const rocPaad3=[[.05,.082],[.103,.102],[.15,.146],[.2,.171],[.25,.282],[.299,.389],[.45,.457],[.5,.589],[.55,.615],[.599,.632],[.699,.668],[.748,.766],[.798,.778],[.848,.816],[.948,.962],[1,.962]];
const rocPaad5=[[0,.073],[.125,.09],[.25,.154],[.375,.389],[.625,.64],[.75,.676],[.875,.773],[1,.773]];

/* ---------- Panel geometry ---------- */
const kmPanels=[
 {id:'acc',L:191,R:886,T:119,B:835,xa:[0,204],xb:[4000,776],ya:[1,141],yb:[.4,671],xTicks:accXTicks,yTicks:accYTicks,yLabels:accYLabels,low:accLow,high:accHigh,lowBand:accLowBand,highBand:accHighBand,lowCensor:accLowCensor,highCensor:accHighCensor,font:28.5,xBase:53,tick:14,zero:13},
 {id:'lihc',L:2205,R:2867,T:139,B:817,xa:[0,2218],xb:[3000,2736],ya:[1,158],yb:[.25,703],xTicks:lihcXTicks,yTicks:lihcYTicks,yLabels:lihcYLabels,low:lihcLow,high:lihcHigh,lowBand:lihcLowBand,highBand:lihcHighBand,lowCensor:lihcLowCensor,highCensor:lihcHighCensor,font:36.5,xBase:61,tick:17,zero:15},
 {id:'brca',L:226,R:887,T:1084,B:1763,xa:[0,239],xb:[8000,829],ya:[1,1103],yb:[.25,1638],xTicks:brcaXTicks,yTicks:brcaYTicks,yLabels:brcaYLabels,low:brcaLow,high:brcaHigh,lowBand:brcaLowBand,highBand:brcaHighBand,lowCensor:brcaLowCensor,highCensor:brcaHighCensor,font:36.5,xBase:61,tick:17,zero:15},
 {id:'cesc',L:2184,R:2867,T:1084,B:1763,xa:[0,2198],xb:[6000,2811],ya:[1,1103],yb:[.2,1749],xTicks:cescXTicks,yTicks:cescYTicks,yLabels:cescYLabels,low:cescLow,high:cescHigh,lowBand:cescLowBand,highBand:cescHighBand,lowCensor:cescLowCensor,highCensor:cescHighCensor,font:36.5,xBase:61,tick:17,zero:15},
 {id:'escc',L:226,R:887,T:1976,B:2657,xa:[0,239],xb:[2000,852],ya:[1,1995],yb:[0,2649],xTicks:esccXTicks,yTicks:esccYTicks,yLabels:esccYLabels,low:esccLow,high:esccHigh,lowBand:esccLowBand,highBand:esccHighBand,lowCensor:esccLowCensor,highCensor:esccHighCensor,font:36.5,xBase:61,tick:17,zero:15},
 {id:'gbmlgg',L:3195,R:3856,T:1976,B:2657,xa:[0,3207],xb:[6000,3800],ya:[1,1995],yb:[.25,2500],xTicks:gbmXTicks,yTicks:gbmYTicks,yLabels:gbmYLabels,low:gbmLow,high:gbmHigh,lowBand:gbmLowBand,highBand:gbmHighBand,lowCensor:gbmLowCensor,highCensor:gbmHighCensor,font:36.5,xBase:61,tick:17,zero:15},
 {id:'kirc',L:226,R:887,T:2926,B:3605,xa:[0,239],xb:[4000,799],ya:[1,2946],yb:[.25,3497],xTicks:kircXTicks,yTicks:kircYTicks,yLabels:kircYLabels,low:kircLow,high:kircHigh,lowBand:kircLowBand,highBand:kircHighBand,lowCensor:kircLowCensor,highCensor:kircHighCensor,font:36.5,xBase:61,tick:17,zero:15},
 {id:'paad',L:2205,R:2867,T:2926,B:3605,xa:[0,2218],xb:[2000,2683],ya:[1,2946],yb:[0,3601],xTicks:paadXTicks,yTicks:paadYTicks,yLabels:paadYLabels,low:paadLow,high:paadHigh,lowBand:paadLowBand,highBand:paadHighBand,lowCensor:paadLowCensor,highCensor:paadHighCensor,font:36.5,xBase:61,tick:17,zero:15}
];
const rocPanels=[
 {id:'acc',L:1195,R:1876,T:139,B:816,x0:1201,x1:1876,y0:818,y1:146,curves:[rocAcc1,rocAcc3,rocAcc5]},
 {id:'lihc',L:3174,R:3856,T:139,B:816,x0:3180,x1:3856,y0:818,y1:146,curves:[rocLihc1,rocLihc3,rocLihc5]},
 {id:'brca',L:1195,R:1876,T:1084,B:1762,x0:1201,x1:1876,y0:1763,y1:1091,curves:[rocBrca1,rocBrca3,rocBrca5]},
 {id:'cesc',L:3174,R:3856,T:1084,B:1762,x0:3180,x1:3856,y0:1763,y1:1091,curves:[rocCesc1,rocCesc3,rocCesc5]},
 {id:'escc',L:1195,R:1876,T:1976,B:2657,x0:1201,x1:1876,y0:2657,y1:1983,curves:[rocEscc1,rocEscc3,rocEscc4]},
 {id:'gbmlgg',L:2185,R:2866,T:1976,B:2657,x0:2191,x1:2866,y0:2657,y1:1983,curves:[rocGbm1,rocGbm3,rocGbm5]},
 {id:'kirc',L:1195,R:1876,T:2926,B:3605,x0:1201,x1:1876,y0:3606,y1:2933,curves:[rocKirc1,rocKirc3,rocKirc5]},
 {id:'paad',L:3174,R:3856,T:2926,B:3605,x0:3180,x1:3856,y0:3606,y1:2933,curves:[rocPaad1,rocPaad3,rocPaad5]}
];

const BLUE='#4DBBD5',RED='#E64B35',TEAL='#00A087';
const NS='http://www.w3.org/2000/svg';
const root=document.getElementById('marks');

function mk(tag,attrs,parent){
  const el=document.createElementNS(NS,tag);
  for(const k in attrs) el.setAttribute(k,attrs[k]);
  parent.appendChild(el);
  return el;
}
function linear(a,b){return v=>a[1]+(v-a[0])*(b[1]-a[1])/(b[0]-a[0]);}

function drawGrid(g,id,p,xTicks,yTicks,sx,sy){
  const halves=(ticks)=>{
    const s=[...ticks].sort((a,b)=>a-b),step=s[1]-s[0],out=[];
    for(let v=s[0]-step/2;v<=s[s.length-1]+step*1.5+1e-9;v+=step) out.push(v);
    return out;
  };
  let d='';
  halves(xTicks).forEach(v=>{const x=sx(v);if(x>p.L&&x<p.R)d+=`M${x} ${p.T}V${p.B}`;});
  halves(yTicks).forEach(v=>{const y=sy(v);if(y>p.T&&y<p.B)d+=`M${p.L} ${y}H${p.R}`;});
  const minor=mk('path',{d:d,stroke:'#eeeeee','stroke-width':3.5,fill:'none'},g);
  
  
  d='';
  xTicks.forEach(v=>{d+=`M${sx(v)} ${p.T}V${p.B}`;});
  yTicks.forEach(v=>{d+=`M${p.L} ${sy(v)}H${p.R}`;});
  const major=mk('path',{d:d,stroke:'#e9e9e9','stroke-width':6,fill:'none'},g);
  
  
}

function drawFrameAndAxes(g,id,p,xTicks,xLabels,yTicks,yLabels,sx,sy,font,xBase,tickLen,zeroShift){
  const frame=mk('rect',{x:p.L,y:p.T,width:p.R-p.L,height:p.B-p.T,fill:'none',stroke:'#111','stroke-width':5},g);
  
  
  xTicks.forEach((v,i)=>{
    const tk=mk('line',{x1:sx(v),x2:sx(v),y1:p.B,y2:p.B+tickLen,stroke:'#111','stroke-width':4},g);
    
    
    const lb=mk('text',{x:sx(v)+(xLabels[i]==='0'?zeroShift:0),y:p.B+xBase,'text-anchor':'middle','font-size':font},g);
    
    
    lb.textContent=xLabels[i];
  });
  yTicks.forEach((v,i)=>{
    const tk=mk('line',{x1:p.L-tickLen,x2:p.L,y1:sy(v),y2:sy(v),stroke:'#111','stroke-width':4},g);
    
    
    const lb=mk('text',{x:p.L-32,y:sy(v)+font*.36,'text-anchor':'end','font-size':font},g);
    
    
    lb.textContent=yLabels[i];
  });
}

function stepPath(knots,sx,sy,startX,startY){
  let d=`M${sx(startX)} ${sy(startY)}`,prev=startY;
  knots.forEach(k=>{d+=`L${sx(k[0])} ${sy(prev)}L${sx(k[0])} ${sy(k[1])}`;prev=k[1];});
  return d;
}
function bandPath(band,sx,sy){
  let up='',down='';
  for(let i=0;i<band.length-1;i++){
    const a=sx(band[i][0]),b=sx(band[i+1][0]);
    up+=`${up?'L':'M'}${a} ${sy(band[i][2])}L${b} ${sy(band[i][2])}`;
    down=`L${b} ${sy(band[i][1])}L${a} ${sy(band[i][1])}`+down;
  }
  return up+down+'Z';
}
function survivalAt(knots,t){
  let s=1;
  for(const k of knots){if(k[0]<=t)s=k[1];else break;}
  return s;
}
function censorPath(times,knots,sx,sy){
  let d='';
  times.forEach(t=>{
    const x=sx(t),y=sy(survivalAt(knots,t));
    d+=`M${x-14} ${y}H${x+14}M${x} ${y-12}V${y+12}`;
  });
  return d;
}

kmPanels.forEach(p=>{
  const id=`${p.id}-survival`;
  const sx=linear(p.xa,p.xb),sy=linear(p.ya,p.yb);
  const g=mk('g',{},root);
  
  
  drawGrid(g,id,p,p.xTicks,p.yTicks,sx,sy);
  const bLow=mk('path',{d:bandPath(p.lowBand,sx,sy),fill:BLUE,'fill-opacity':.2},g);
  
  
  const bHigh=mk('path',{d:bandPath(p.highBand,sx,sy),fill:RED,'fill-opacity':.2},g);
  
  
  const cLow=mk('path',{d:stepPath(p.low,sx,sy,0,1),fill:'none',stroke:BLUE,'stroke-width':5},g);
  
  
  const mLow=mk('path',{d:censorPath(p.lowCensor,p.low,sx,sy),fill:'none',stroke:BLUE,'stroke-width':3.5},g);
  
  
  const cHigh=mk('path',{d:stepPath(p.high,sx,sy,0,1),fill:'none',stroke:RED,'stroke-width':5},g);
  
  
  const mHigh=mk('path',{d:censorPath(p.highCensor,p.high,sx,sy),fill:'none',stroke:RED,'stroke-width':3.5},g);
  
  
  drawFrameAndAxes(g,id,p,p.xTicks,p.xTicks.map(String),p.yTicks,p.yLabels,sx,sy,p.font,p.xBase,p.tick,p.zero);
});

const rocColors=[BLUE,RED,TEAL];
rocPanels.forEach(p=>{
  const id=`${p.id}-roc`;
  const sx=linear([0,p.x0],[1,p.x1]),sy=linear([0,p.y0],[1,p.y1]);
  const g=mk('g',{},root);
  
  
  drawGrid(g,id,p,rocTicks,rocTicks,sx,sy);
  p.curves.forEach((knots,i)=>{
    const line=stepPath(knots,sx,sy,0,0);
    const area=mk('path',{d:`${line}L${sx(1)} ${sy(0)}Z`,fill:rocColors[i],'fill-opacity':.1},g);
    
    
  });
  const diag=mk('line',{x1:sx(0),y1:sy(0),x2:sx(1),y2:sy(1),stroke:'#7f7f7f','stroke-width':5,'stroke-dasharray':'20 20'},g);
  
  
  p.curves.forEach((knots,i)=>{
    const c=mk('path',{d:stepPath(knots,sx,sy,0,0),fill:'none',stroke:rocColors[i],'stroke-width':5,'stroke-opacity':.9},g);
    
    
  });
  drawFrameAndAxes(g,id,p,rocTicks,rocTickLabels,rocTicks,rocTickLabels,sx,sy,36.5,62,16,0);
});
</script>
</body>
</html>
